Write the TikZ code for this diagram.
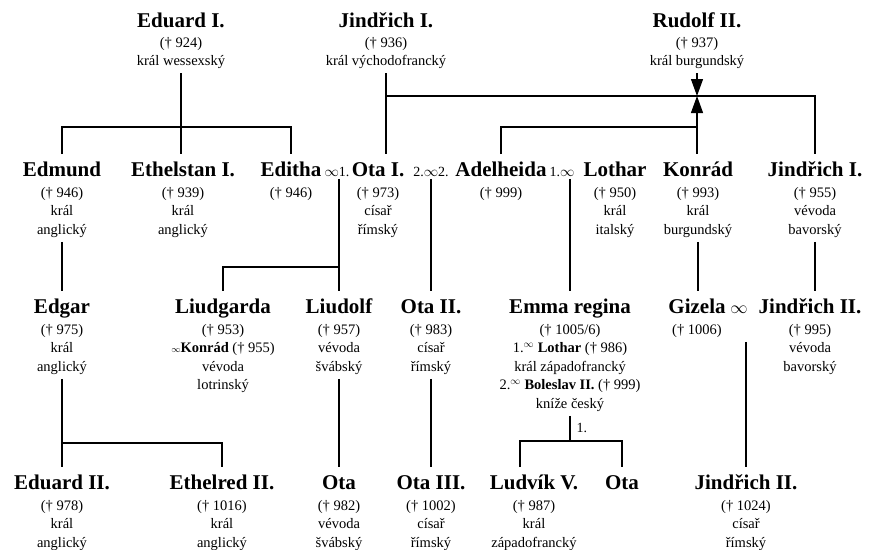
\documentclass[tikz,border=0pt]{standalone}
\usepackage{fontspec}
\setmainfont{Liberation Serif}
\usetikzlibrary{arrows.meta}
\newcommand{\nm}[1]{{\fontsize{21}{22}\selectfont\bfseries\rule{0pt}{18pt}#1}}
\newcommand{\marr}{\ensuremath{\infty}}

\begin{document}
\begin{tikzpicture}[x=1pt,y=-1pt,line width=1.2pt,
  person/.style={align=center,anchor=north,yshift=22pt,inner xsep=1pt,inner ysep=4pt,
    font=\fontsize{14.5}{18.5}\selectfont},
  marriage/.style={anchor=base,inner sep=2pt,font=\fontsize{14}{18}\selectfont},
  tip/.style={-{Triangle[length=17pt,width=12pt]}}]
  \useasboundingbox (0,0) rectangle (870,549);

  \node[person] (eduard1) at (181,27) {\nm{Eduard I.}\\[1pt](† 924)\\král wessexský};
  \node[person] (jindrich1) at (386,27) {\nm{Jindřich I.}\\[1pt](† 936)\\král východofrancký};
  \node[person] (rudolf2) at (697,27) {\nm{Rudolf II.}\\[1pt](† 937)\\král burgundský};

  \node[person] (edmund) at (62,176) {\nm{Edmund}\\[2pt](† 946)\\král\\anglický};
  \node[person] (ethelstan) at (183,176) {\nm{Ethelstan I.}\\[2pt](† 939)\\král\\anglický};
  \node[person] (editha) at (291,176) {\nm{Editha}\\[2pt](† 946)};
  \node[marriage] (m1) at (337,176) {\marr1.};
  \node[person] (ota1) at (378,176) {\nm{Ota I.}\\[2pt](† 973)\\císař\\římský};
  \node[marriage] (m2) at (431,176) {2.\marr2.};
  \node[person] (adelheida) at (501,176) {\nm{Adelheida}\\[2pt](† 999)};
  \node[marriage] (m3) at (562,176) {1.\marr};
  \node[person] (lothar) at (615,176) {\nm{Lothar}\\[2pt](† 950)\\král\\italský};
  \node[person] (konrad) at (698,176) {\nm{Konrád}\\[2pt](† 993)\\král\\burgundský};
  \node[person] (jindrich1b) at (815,176) {\nm{Jindřich I.}\\[2pt](† 955)\\vévoda\\bavorský};

  \node[person] (edgar) at (62,313) {\nm{Edgar}\\[2pt](† 975)\\král\\anglický};
  \node[person] (liudgarda) at (223,313) {\nm{Liudgarda}\\[2pt](† 953)\\{\small\marr}\textbf{Konrád} († 955)\\vévoda\\lotrinský};
  \node[person] (liudolf) at (339,313) {\nm{Liudolf}\\[2pt](† 957)\\vévoda\\švábský};
  \node[person] (ota2) at (431,313) {\nm{Ota II.}\\[2pt](† 983)\\císař\\římský};
  \node[person] (emma) at (570,313) {\nm{Emma regina}\\[2pt](† 1005/6)\\1.$^\infty$ \textbf{Lothar} († 986)\\král západofrancký\\2.$^\infty$ \textbf{Boleslav II.} († 999)\\kníže český};
  \node[person] (gizela) at (697,313) {\nm{Gizela}\\[2pt](† 1006)};
  \node[marriage,font=\fontsize{19}{19}\selectfont] (m4) at (739,313) {\marr};
  \node[person] (jindrich2) at (810,313) {\nm{Jindřich II.}\\[2pt](† 995)\\vévoda\\bavorský};

  \node[person] (eduard2) at (62,489) {\nm{Eduard II.}\\[2pt](† 978)\\král\\anglický};
  \node[person] (ethelred2) at (222,489) {\nm{Ethelred II.}\\[2pt](† 1016)\\král\\anglický};
  \node[person] (ota) at (339,489) {\nm{Ota}\\[2pt](† 982)\\vévoda\\švábský};
  \node[person] (ota3) at (431,489) {\nm{Ota III.}\\[2pt](† 1002)\\císař\\římský};
  \node[person] (ludvik) at (534,489) {\nm{Ludvík V.}\\[2pt](† 987)\\král\\západofrancký};
  \node[person] (otab) at (622,489) {\nm{Ota}};
  \node[person] (jindrich2b) at (746,489) {\nm{Jindřich II.}\\[2pt](† 1024)\\císař\\římský};
  \node[marriage,anchor=base west] (first) at (574,432) {1.};

  \coordinate (eduardbar) at (181,127);
  \coordinate (jindrichbar) at (386,96);
  \coordinate (cross) at (697,96);
  \coordinate (rudolfbar) at (697,127);
  \coordinate (otabar) at (339,267);
  \coordinate (edgarbar) at (62,443);
  \coordinate (emmabar) at (570,441);
  \coordinate (ludvikbar) at (520,441);

  \draw (eduard1.south) -- (eduard1.south |- ethelstan.north);
  \draw (edmund.north) |- (eduardbar) -| (editha.north);
  \draw (jindrich1.south) -- (jindrich1.south |- ota1.north);
  \draw (jindrichbar) -| (jindrich1b.north);
  \draw[tip] (rudolf2.south) -- (cross);
  \draw[tip] (rudolfbar) -- (cross);
  \draw (adelheida.north) |- (rudolfbar) -- (konrad.north -| rudolfbar);

  \draw (edmund.south) -- (edgar.north);
  \draw (m1.south -| liudolf.north) -- (liudolf.north);
  \draw (otabar) -| (liudgarda.north);
  \draw (m2.south) -- (ota2.north);
  \draw (m3.south -| emma.north) -- (emma.north);
  \draw (konrad.south) -- (konrad.south |- gizela.north);
  \draw (jindrich1b.south) -- (jindrich1b.south |- jindrich2.north);

  \draw (edgar.south) -- (eduard2.north);
  \draw (edgarbar) -| (ethelred2.north);
  \draw (liudolf.south) -- (ota.north);
  \draw (ota2.south) -- (ota3.north);
  \draw (emma.south) -- (emmabar);
  \draw (ludvikbar |- ludvik.north) -- (ludvikbar) -| (otab.north);
  \draw (gizela.south -| jindrich2b.north) -- (jindrich2b.north);
\end{tikzpicture}
\end{document}
